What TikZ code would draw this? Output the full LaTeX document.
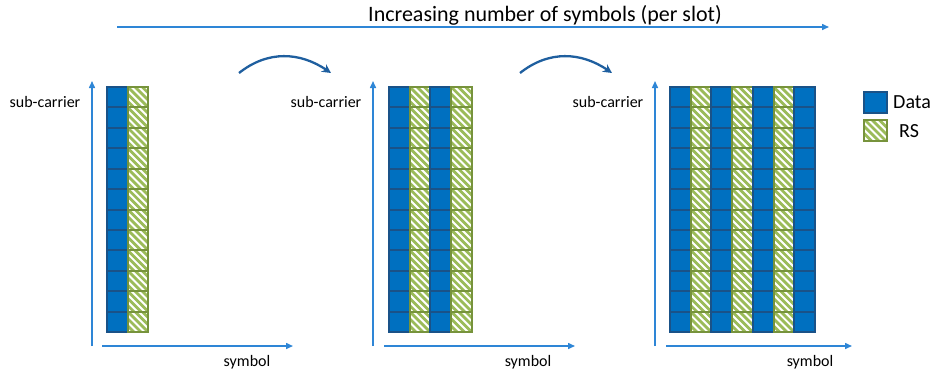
\documentclass[tikz,border=0pt]{standalone}
\usepackage{fontspec}
\setmainfont{Carlito}
\usetikzlibrary{arrows.meta}
\definecolor{datablue}{HTML}{0070C0}
\definecolor{databorder}{HTML}{1A5288}
\definecolor{rsgreen}{HTML}{77933C}
\definecolor{rsstripe}{HTML}{9BBB59}
\definecolor{axisblue}{HTML}{2E86D6}
\definecolor{curveblue}{HTML}{1F5F9F}
\tikzset{
  datacell/.style={fill=datablue,draw=databorder,line width=2pt},
  rsborder/.style={draw=rsgreen,line width=2pt},
  rsline/.style={draw=rsstripe,line width=2.8pt},
  axis/.style={draw=axisblue,line width=1.5pt,-{Triangle[length=7pt,width=6pt]}},
  curvearrow/.style={draw=curveblue,line width=2.3pt,-{Stealth[length=9pt,width=9pt]}},
  lbl/.style={font=\fontsize{16}{18}\selectfont,text=black,inner sep=0pt},
}
\newcommand{\rsbox}[4]{% x, y, w, h
  \begin{scope}
    \clip (#1,#2) rectangle ++(#3,#4);
    \foreach \k in {-4,...,4}{
      \path[rsline] ({#1+#3/2+\k*7.2-20},{#2+#4/2-20}) -- ++(40,40);
    }
  \end{scope}
  \path[rsborder] (#1,#2) rectangle ++(#3,#4);
}
\newcommand{\cellgrid}[2]{%
  \foreach \t [count=\c from 0] in {#2}{
    \foreach \r in {0,...,11}{
      \pgfmathsetmacro{\xa}{#1+\c*20.7}
      \pgfmathsetmacro{\ya}{87+\r*20.42}
      \ifnum\t=0
        \path[datacell] (\xa,\ya) rectangle ++(20.7,20.42);
      \else
        \rsbox{\xa}{\ya}{20.7}{20.42}
      \fi
    }
  }
}
\begin{document}
\begin{tikzpicture}[x=1pt,y=-1pt]
\useasboundingbox (0,0) rectangle (933,373);
% top arrow
\coordinate (topL) at (117,27);
\coordinate (topR) at (829,27);
\draw[axis] (topL) -- (topR);
\node[lbl,font=\fontsize{22}{24}\selectfont] (title) at (545,15) {Increasing number of symbols (per slot)};
% grids
\cellgrid{107}{0,1}
\cellgrid{389}{0,1,0,1}
\cellgrid{670}{0,1,0,1,0,1,0}
% axes grid 1
\coordinate (v1b) at (92,346); \coordinate (v1t) at (92,81);
\coordinate (h1l) at (102,346); \coordinate (h1r) at (293,346);
\draw[axis] (v1b) -- (v1t);
\draw[axis] (h1l) -- (h1r);
\node[lbl] (sc1) at (45,102) {sub-carrier};
\node[lbl] (sy1) at (247,362) {symbol};
% axes grid 2
\coordinate (v2b) at (373,346); \coordinate (v2t) at (373,81);
\coordinate (h2l) at (384,346); \coordinate (h2r) at (575,346);
\draw[axis] (v2b) -- (v2t);
\draw[axis] (h2l) -- (h2r);
\node[lbl] (sc2) at (326,102) {sub-carrier};
\node[lbl] (sy2) at (528,362) {symbol};
% axes grid 3
\coordinate (v3b) at (655,346); \coordinate (v3t) at (655,81);
\coordinate (h3l) at (666,346); \coordinate (h3r) at (852,346);
\draw[axis] (v3b) -- (v3t);
\draw[axis] (h3l) -- (h3r);
\node[lbl] (sc3) at (608,102) {sub-carrier};
\node[lbl] (sy3) at (810,362) {symbol};
% curved arrows
\coordinate (c1a) at (239,73); \coordinate (c1b) at (331,73);
\draw[curvearrow] (c1a) .. controls (268,50) and (300,52) .. (c1b);
\coordinate (c2a) at (520,73); \coordinate (c2b) at (612,73);
\draw[curvearrow] (c2a) .. controls (549,50) and (581,52) .. (c2b);
% legend
\path[datacell] (864,92) rectangle (887,113);
\node[lbl,anchor=west,font=\fontsize{20}{22}\selectfont] (ldata) at (893,102) {Data};
\rsbox{864}{120}{23}{21}
\node[lbl,anchor=west,font=\fontsize{20}{22}\selectfont] (lrs) at (899,131) {RS};
\end{tikzpicture}
\end{document}
